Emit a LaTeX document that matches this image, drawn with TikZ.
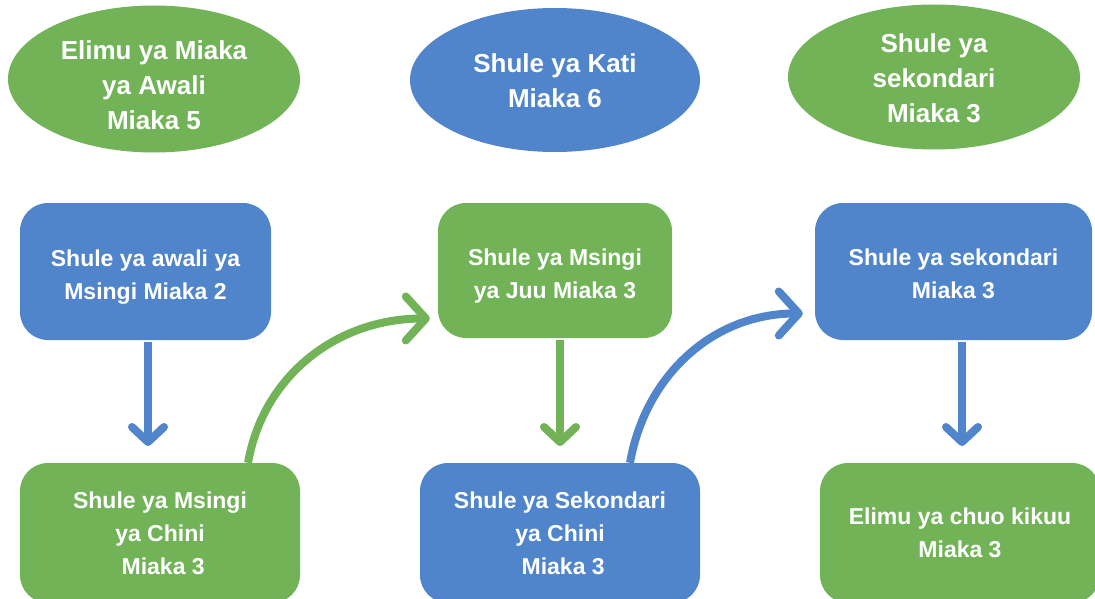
\documentclass[tikz,border=0pt]{standalone}
\usepackage{fontspec}
\setmainfont{Liberation Sans}
\usetikzlibrary{arrows.meta,shapes.geometric,calc}
\definecolor{cgreen}{RGB}{114,179,88}
\definecolor{cblue}{RGB}{80,133,204}
\begin{document}
\begin{tikzpicture}[x=1pt,y=-1pt,
  oval/.style={ellipse,draw=none,fill=#1,inner sep=0pt},
  rbox/.style={rectangle,rounded corners=28pt,draw=none,fill=#1,inner sep=0pt},
  ovaltext/.style={text=white,font=\fontsize{26}{35}\selectfont\bfseries,align=center,inner sep=0pt},
  boxtext/.style={text=white,font=\fontsize{23}{33}\selectfont\bfseries,align=center,inner sep=0pt},
  downarr/.style={draw=#1,line width=8pt,-{Straight Barb[length=15pt,width=32pt,round]},shorten <=2pt},
  curvarr/.style={draw=#1,line width=8pt,-{Straight Barb[length=20pt,width=44pt,round]}}]
\useasboundingbox (0,0) rectangle (1095,599);
% ellipses
\node[oval=cgreen,minimum width=292pt,minimum height=147pt] (e1) at (154,79) {};
\node[oval=cblue,minimum width=290pt,minimum height=144pt] (e2) at (555,80) {};
\node[oval=cgreen,minimum width=292pt,minimum height=145pt] (e3) at (934,77) {};
\node[ovaltext] (e1t) at ([yshift=-6pt]e1.center) {Elimu ya Miaka\\ya Awali\\Miaka 5};
\node[ovaltext] (e2t) at ([yshift=-1pt]e2.center) {Shule ya Kati\\Miaka 6};
\node[ovaltext] (e3t) at ([yshift=-1pt]e3.center) {Shule ya\\sekondari\\Miaka 3};
% boxes
\node[rbox=cblue,minimum width=251pt,minimum height=137pt] (b1) at (145.5,271.5) {};
\node[rbox=cgreen,minimum width=234pt,minimum height=135pt] (b2) at (555,270.5) {};
\node[rbox=cblue,minimum width=277pt,minimum height=137pt] (b3) at (953.5,271.5) {};
\node[rbox=cgreen,minimum width=280pt,minimum height=140pt] (b4) at (160,533) {};
\node[rbox=cblue,minimum width=280pt,minimum height=140pt] (b5) at (560,533) {};
\node[rbox=cgreen,minimum width=280pt,minimum height=140pt] (b6) at (960,533) {};
\node[boxtext] (b1t) at ([yshift=-6pt]b1.center) {Shule ya awali ya\\Msingi Miaka 2};
\node[boxtext] (b2t) at ([yshift=-6pt]b2.center) {Shule ya Msingi\\ya Juu Miaka 3};
\node[boxtext] (b3t) at ([yshift=-2pt]b3.center) {Shule ya sekondari\\Miaka 3};
\node[boxtext] (b4t) at (b4.center) {Shule ya Msingi\\ya Chini\\\ Miaka 3};
\node[boxtext] (b5t) at (b5.center) {Shule ya Sekondari\\ya Chini\\\ Miaka 3};
\node[boxtext] (b6t) at (b6.center) {Elimu ya chuo kikuu\\Miaka 3};
% down arrows
\coordinate (t1) at (148,446);
\coordinate (t2) at (560,446);
\coordinate (t3) at (962,446);
\draw[downarr=cblue] (b1.south -| t1) -- (t1);
\draw[downarr=cgreen] (b2.south -| t2) -- (t2);
\draw[downarr=cblue] (b3.south -| t3) -- (t3);
% curved arrows
\draw[curvarr=cgreen] ([xshift=88pt]b4.north) to[out=80,in=180] ([xshift=-8pt,yshift=-48pt]b2.west);
\draw[curvarr=cblue] ([xshift=70pt]b5.north) to[out=80,in=180] ([xshift=-12pt,yshift=-42pt]b3.west);
\end{tikzpicture}
\end{document}
